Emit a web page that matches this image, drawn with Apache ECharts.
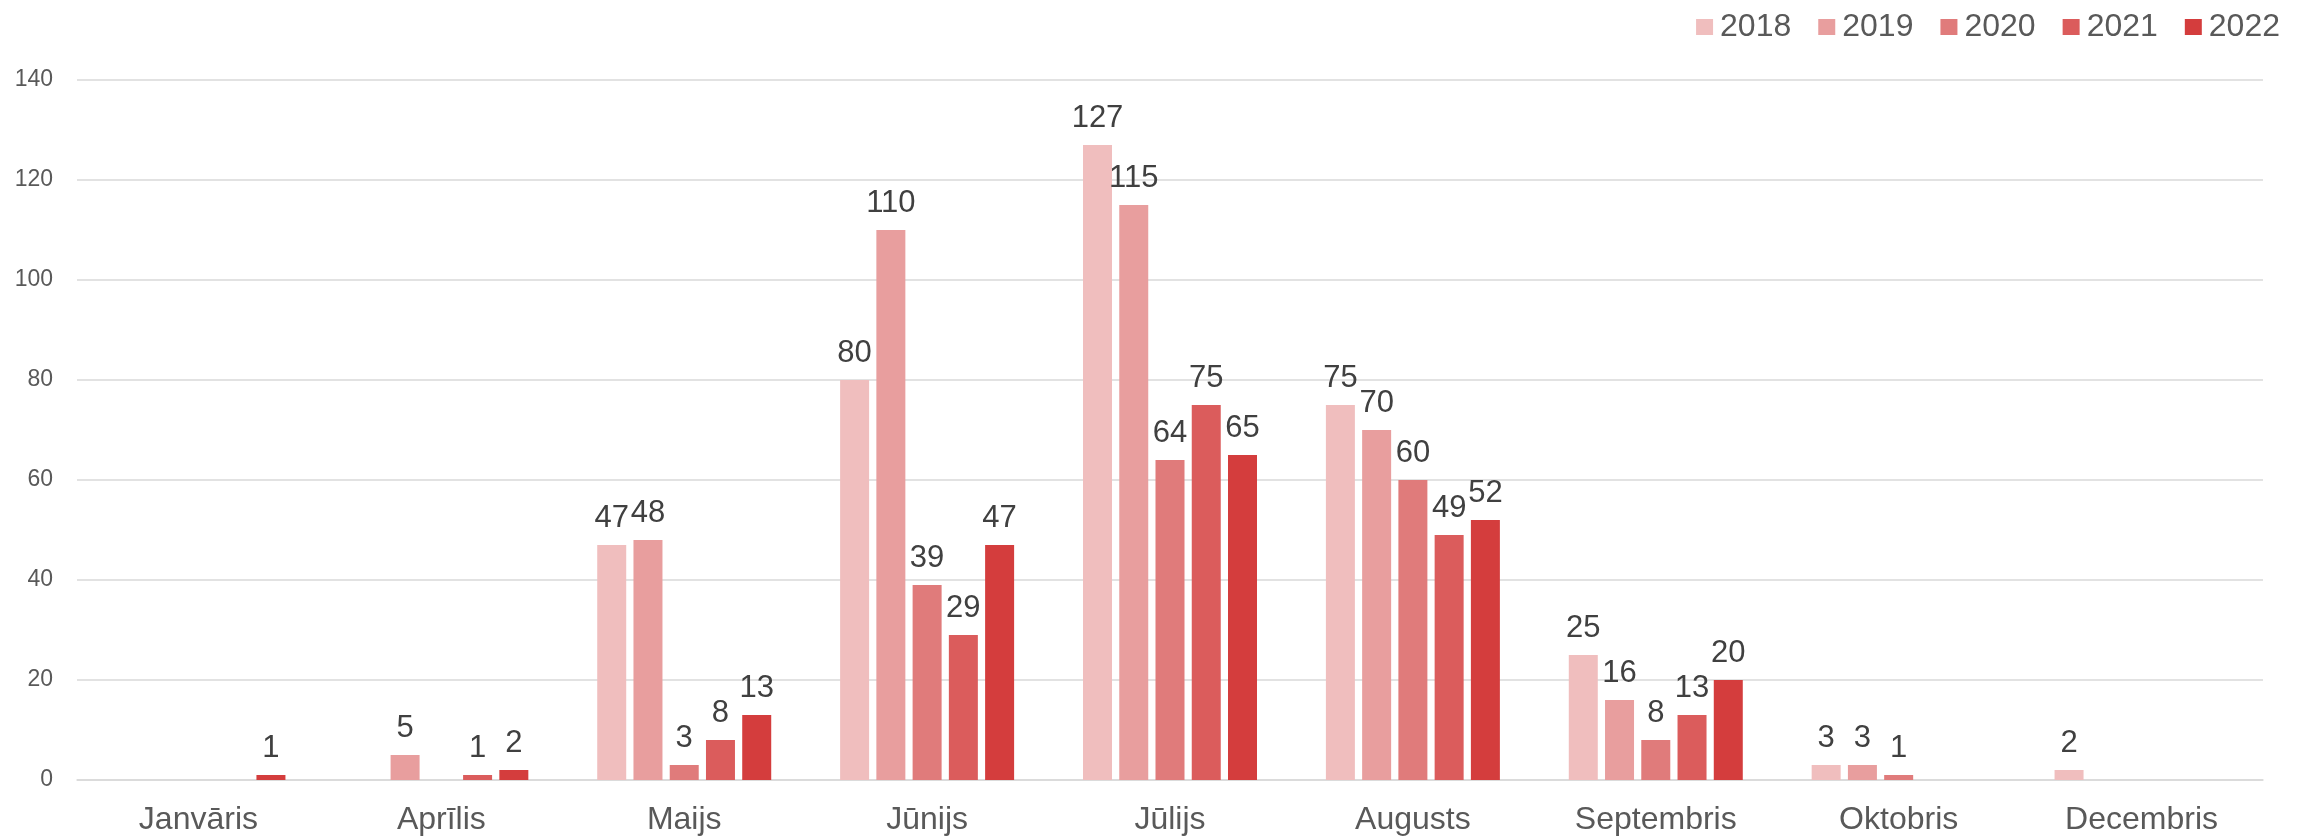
<!DOCTYPE html>
<html>
<head>
<meta charset="utf-8">
<script src="https://cdn.jsdelivr.net/npm/echarts@6/dist/echarts.min.js"></script>
<style>
html,body{margin:0;padding:0;background:#fff;}
#chart{width:2307px;height:839px;}
</style>
</head>
<body>
<div id="chart"></div>
<script>
var categories = ['Janvāris', 'Aprīlis', 'Maijs', 'Jūnijs', 'Jūlijs', 'Augusts', 'Septembris', 'Oktobris', 'Decembris'];
var years = ['2018', '2019', '2020', '2021', '2022'];
var v2018 = [null, null, 47, 80, 127, 75, 25, 3, 2];
var v2019 = [null, 5, 48, 110, 115, 70, 16, 3, null];
var v2020 = [null, null, 3, 39, 64, 60, 8, 1, null];
var v2021 = [null, 1, 8, 29, 75, 49, 13, null, null];
var v2022 = [1, 2, 13, 47, 65, 52, 20, null, null];
var yTicks = [0, 20, 40, 60, 80, 100, 120, 140];

var colors = ['#F0BEBE', '#E89E9E', '#E07B7B', '#DB5C5C', '#D43D3D'];
var values = [v2018, v2019, v2020, v2021, v2022];
var FONT = '"Liberation Sans", Arial, sans-serif';

var series = years.map(function (y, i) {
  return {
    name: y,
    type: 'bar',
    data: values[i],
    barWidth: 29,
    barGap: '25%',
    itemStyle: { color: colors[i] },
    label: {
      show: true,
      position: 'top',
      distance: 11,
      color: '#404040',
      fontSize: 31,
      fontFamily: FONT
    }
  };
});

var chart = echarts.init(document.getElementById('chart'), null, { renderer: 'canvas' });
chart.setOption({
  animation: false,
  backgroundColor: '#ffffff',
  color: colors,
  legend: {
    data: years,
    right: 22,
    top: 6,
    icon: 'rect',
    itemWidth: 17,
    itemHeight: 16,
    itemGap: 27,
    textStyle: { fontSize: 32, color: '#595959', fontFamily: FONT, padding: [0, 0, 0, 2] }
  },
  grid: { left: 77, right: 44, top: 80, bottom: 59, containLabel: false },
  xAxis: {
    type: 'category',
    data: categories,
    axisTick: { show: false },
    axisLine: { lineStyle: { color: '#D9D9D9', width: 1.5 } },
    axisLabel: { color: '#595959', fontSize: 32, fontFamily: FONT, margin: 24 }
  },
  yAxis: {
    type: 'value',
    min: yTicks[0],
    max: yTicks[yTicks.length - 1],
    interval: 20,
    axisLine: { show: false },
    axisTick: { show: false },
    splitLine: { lineStyle: { color: '#D9D9D9', width: 1.5 } },
    axisLabel: { color: '#595959', fontSize: 23, fontFamily: FONT, margin: 24 }
  },
  series: series
});
</script>
</body>
</html>
